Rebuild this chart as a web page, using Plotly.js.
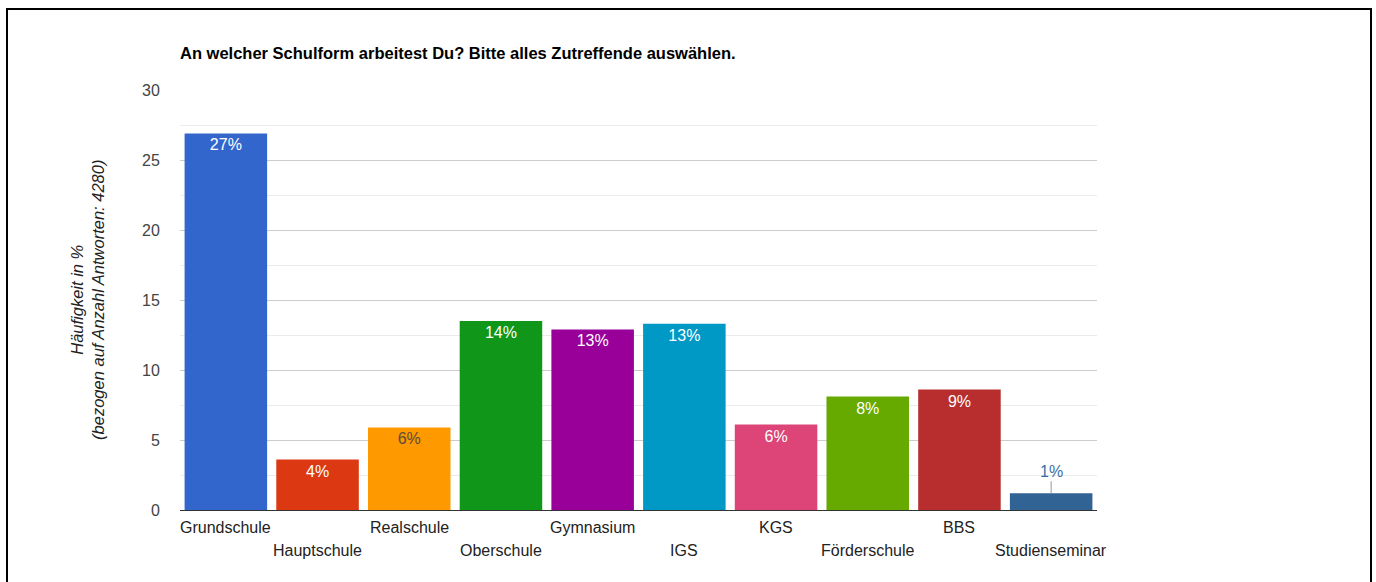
<!DOCTYPE html>
<html><head><meta charset="utf-8">
<script src="https://cdn.plot.ly/plotly-3.0.1.min.js"></script>
<style>
html,body{margin:0;padding:0;background:#fff;}
#wrap{position:relative;width:1376px;height:582px;overflow:hidden;}
#chart{position:absolute;left:0;top:0;width:1376px;height:582px;}
#frame{position:absolute;left:6px;top:8px;width:1362px;height:590px;border:2.5px solid #000;pointer-events:none;}
</style>
</head><body>
<div id="wrap"><div id="chart"></div><div id="frame"></div></div>
<script>
const categories = ["Grundschule","Hauptschule","Realschule","Oberschule","Gymnasium","IGS","KGS","Förderschule","BBS","Studienseminar"];
const values = [26.9, 3.6, 5.9, 13.5, 12.9, 13.3, 6.1, 8.1, 8.6, 1.2];
const colors = ["#3366cc","#dc3912","#ff9900","#109618","#990099","#0099c6","#dd4477","#66aa00","#b82e2e","#316395"];
const labelColors = ["#ffffff","#ffffff","#5a4b3a","#ffffff","#ffffff","#ffffff","#ffffff","#ffffff","#ffffff","#3a6eaa"];
const outsideIndex = 9;
const titleText = "An welcher Schulform arbeitest Du? Bitte alles Zutreffende auswählen.";
const yTitle = "Häufigkeit in %<br>(bezogen auf Anzahl Antworten: 4280)";
const yTicks = [0,5,10,15,20,25,30];

const FONT = "Arial, 'Liberation Sans', sans-serif";
const labels = values.map(v => Math.round(v) + "%");

const trace = {
  type: "bar",
  x: categories,
  y: values,
  marker: {color: colors},
  text: labels.map((t,i) => i === outsideIndex ? "" : t),
  textposition: categories.map((c,i) => i === outsideIndex ? "none" : "inside"),
  insidetextanchor: "end",
  textangle: 0,
  textfont: {family: FONT, size: 16, color: labelColors},
  hoverinfo: "x+y"
};

const annotations = [];
categories.forEach((c,i) => {
  annotations.push({
    xref: "x", x: c, yref: "paper", y: 0,
    yanchor: "top", yshift: (i % 2 === 0) ? -7 : -30,
    text: c, showarrow: false,
    font: {family: FONT, size: 16, color: "#222"}
  });
});
annotations.push({
  xref: "x", x: categories[outsideIndex], yref: "y", y: values[outsideIndex],
  text: labels[outsideIndex], showarrow: true, arrowhead: 0, arrowwidth: 1,
  arrowcolor: "#999", ax: 0, ay: -22, standoff: 0,
  font: {family: FONT, size: 16, color: labelColors[outsideIndex]}
});
annotations.push({
  xref: "paper", x: -0.1015, yref: "paper", y: 0.5,
  text: yTitle, textangle: -90, showarrow: false,
  xanchor: "center", yanchor: "middle",
  font: {family: FONT, size: 16.5, color: "#222", style: "italic"}
});

const layout = {
  width: 1376, height: 582,
  margin: {l: 180, r: 279, t: 90, b: 72},
  paper_bgcolor: "rgba(0,0,0,0)", plot_bgcolor: "#fff",
  font: {family: FONT, size: 16, color: "#444"},
  title: {text: "<b>" + titleText + "</b>", x: 0, xref: "paper", xanchor: "left",
          y: 1 - 53/582, yref: "container", yanchor: "middle",
          font: {family: FONT, size: 16.5, color: "#000"}},
  bargap: 0.1,
  showlegend: false,
  xaxis: {type: "category", range: [-0.5, categories.length - 0.5], autorange: false,
          showticklabels: false, showgrid: false, zeroline: false, showline: false, fixedrange: true},
  yaxis: {range: [0, 30], autorange: false, tickvals: yTicks, ticktext: yTicks.map(String),
          gridcolor: "#cccccc", gridwidth: 1,
          minor: {dtick: 2.5, showgrid: true, gridcolor: "#ebebeb", gridwidth: 1},
          zeroline: true, zerolinecolor: "#333", zerolinewidth: 1,
          ticks: "outside", ticklen: 16, tickcolor: "rgba(0,0,0,0)",
          tickfont: {family: FONT, size: 16, color: "#444"}, fixedrange: true},
  annotations: annotations
};

Plotly.newPlot("chart", [trace], layout, {displayModeBar: false, staticPlot: true});
</script>
</body></html>
